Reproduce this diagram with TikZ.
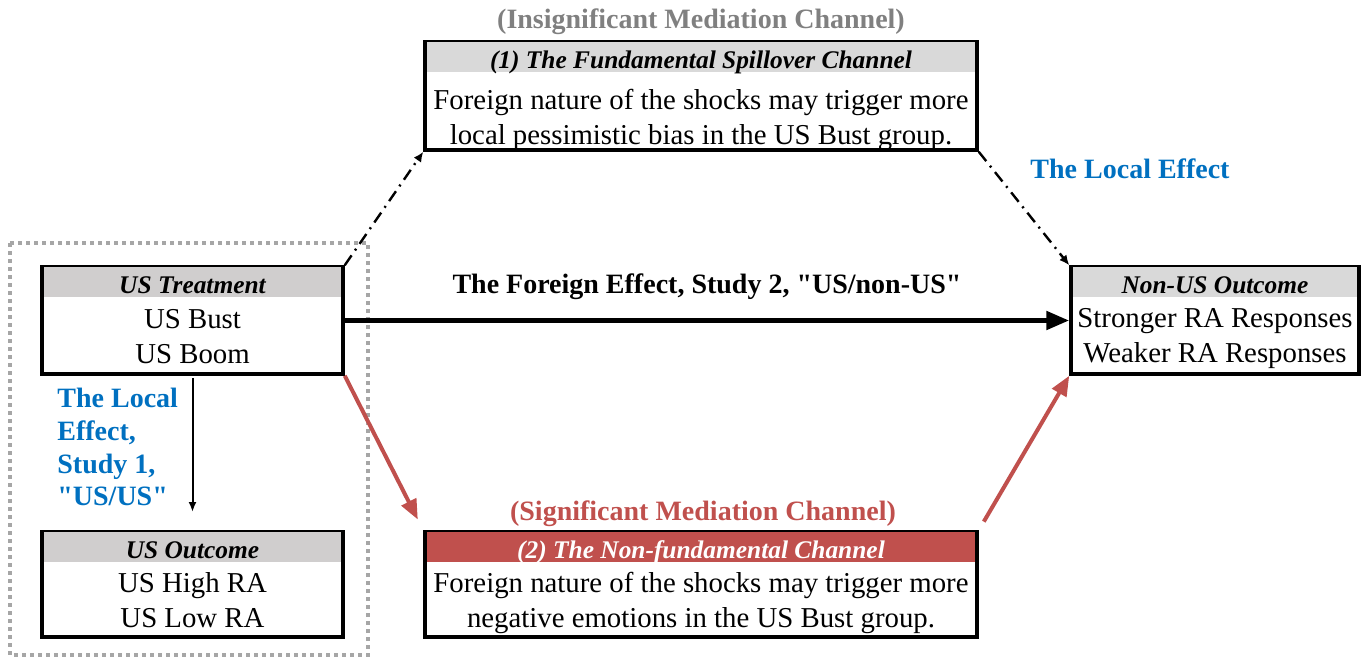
\documentclass[tikz,border=0pt]{standalone}
\usepackage{fontspec}
\setmainfont{Liberation Serif}[Ligatures=TeXOff]
\usetikzlibrary{arrows.meta,positioning}
\definecolor{headgray}{HTML}{D0CECE}
\definecolor{lightgray2}{HTML}{D9D9D9}
\definecolor{chanred}{HTML}{C0504D}
\definecolor{effblue}{HTML}{0070C0}
\definecolor{titlegray}{HTML}{808080}
\definecolor{framegray}{HTML}{A6A6A6}
\newcommand\bodyfont{\fontsize{14.4}{17.5}\selectfont}
\newcommand\headfont{\fontsize{12.7}{15}\selectfont\bfseries\itshape}
\newcommand\labfont{\fontsize{14}{16.3}\selectfont\bfseries}
\begin{document}
\begin{tikzpicture}[x=.5pt,y=-.5pt,
  box/.style={draw,line width=1.75pt,inner sep=0pt},
  headbar/.style={anchor=north,inner sep=0pt,minimum height=15pt,text height=13pt,text depth=2pt,font=\headfont},
  bodytxt/.style={align=center,inner sep=0pt,font=\bodyfont},
  labtxt/.style={inner sep=0pt,font=\labfont},
  redarrow/.style={chanred,line width=2pt,-{Triangle[length=10pt,width=8pt]}},
  dasharrow/.style={line width=1.2pt,dash pattern=on 6pt off 3pt on 1pt off 3pt,-{Latex[length=5pt,width=4.5pt]}}]
\useasboundingbox (0,0) rectangle (1367,658);
% cadre pointille autour de l'etude 1
\draw[framegray,line width=1.6pt,dash pattern=on 2pt off 2pt] (10,243) rectangle (368,655);
% les cinq boites
\node[box,minimum width=150.5pt,minimum height=53.5pt] (treat) at (192.5,320.5) {};
\node[headbar,fill=headgray,minimum width=148.75pt] (treathd) at ([yshift=-.9pt]treat.north) {US Treatment};
\node[bodytxt] (treattx) at (192.5,337) {US Bust\\US Boom};
\node[box,minimum width=150.5pt,minimum height=52.5pt] (usout) at (192.5,584.5) {};
\node[headbar,fill=headgray,minimum width=148.75pt] (usouthd) at ([yshift=-.9pt]usout.north) {US Outcome};
\node[bodytxt] (usouttx) at (192.5,600) {US High RA\\US Low RA};
\node[box,minimum width=144pt,minimum height=53.5pt] (nonus) at (1215,320.5) {};
\node[headbar,fill=lightgray2,minimum width=142.25pt] (nonushd) at ([yshift=-.9pt]nonus.north) {Non-US Outcome};
\node[bodytxt] (nonustx) at (1215,339) {Stronger RA Responses\\Weaker RA Responses};
\node[box,minimum width=276pt,minimum height=54pt] (fund) at (701,96) {};
\node[headbar,fill=lightgray2,minimum width=274.25pt] (fundhd) at ([yshift=-.9pt]fund.north) {(1) The Fundamental Spillover Channel};
\node[bodytxt] (fundtx) at (701,119.5) {Foreign nature of the shocks may trigger more\\local pessimistic bias in the US Bust group.};
\node[box,minimum width=276pt,minimum height=52.5pt] (nonfund) at (701,584.5) {};
\node[headbar,fill=chanred,text=white,minimum width=274.25pt] (nonfundhd) at ([yshift=-.9pt]nonfund.north) {(2) The Non-fundamental Channel};
\node[bodytxt] (nonfundtx) at (701,602.5) {Foreign nature of the shocks may trigger more\\negative emotions in the US Bust group.};
% titres et etiquettes
\node[labtxt,titlegray] (insigtitle) at (701,22) {(Insignificant Mediation Channel)};
\node[labtxt,chanred] (sigtitle) at (703,514) {(Significant Mediation Channel)};
\node[labtxt,effblue] (localeff) at (1130,169) {The Local Effect};
\node[labtxt,effblue,align=left,anchor=north west] (localtxt) at (57,388) {The Local\\Effect,\\Study 1,\\"US/US"};
% fleches
\draw[dasharrow] (treat.north east) -- (fund.south west);
\draw[dasharrow] (fund.south east) -- (nonus.north west);
\draw[line width=2.5pt,-{Triangle[length=11.5pt,width=9pt]}] (treat.east) --
  node[labtxt,above=9pt] (foreignlab) {The Foreign Effect, Study 2, "US/non-US"} (nonus.west);
\coordinate (localend) at (192.5,512);
\draw[line width=1pt,shorten <=1pt,-{Latex[length=5pt,width=4pt]}] (treat.south) -- (localend);
\draw[redarrow,shorten >=6pt] (treat.south east) -- (nonfund.north west);
\draw[redarrow,shorten <=5pt] (nonfund.north east) -- (nonus.south west);
\end{tikzpicture}
\end{document}
